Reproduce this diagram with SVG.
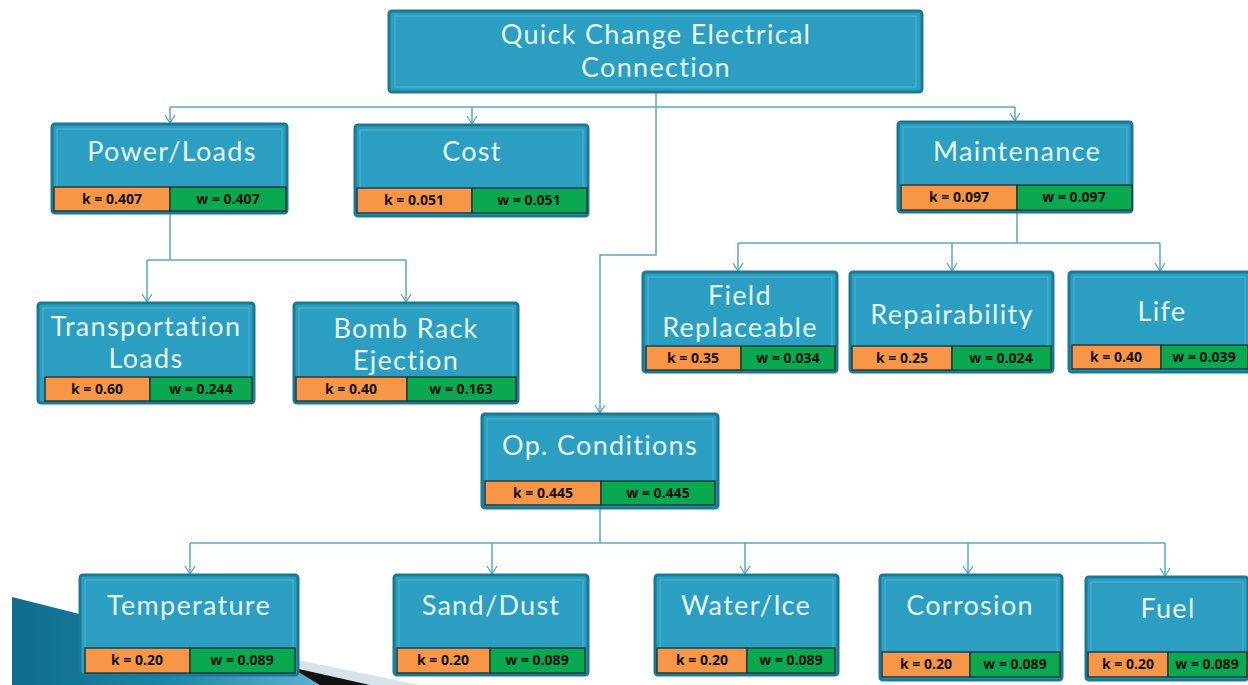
<svg xmlns="http://www.w3.org/2000/svg" width="1248" height="685" viewBox="0 0 1248 685">
<defs>
<style>
.box{fill:#2b9ec2;stroke:#1d7893;stroke-width:3}
.inner{fill:none;stroke:#4fb6d4;stroke-width:1}
.k{fill:#f79646;stroke:#213a3f;stroke-width:1.5}
.w{fill:#0aa84f;stroke:#213a3f;stroke-width:1.5}
.t{font-family:Lato,"Open Sans",sans-serif;font-size:27px;letter-spacing:1.3px;fill:#e6f7ef;text-anchor:middle}
.v{font-family:"Open Sans","DejaVu Sans",sans-serif;font-size:14px;font-weight:bold;fill:#111;text-anchor:middle}
.c{fill:none;stroke:#5aa8bf;stroke-width:1.5}
</style>
<marker id="arr" markerWidth="10" markerHeight="12" refX="9" refY="6" orient="auto" markerUnits="userSpaceOnUse" viewBox="0 0 10 12">
<path d="M1,1 L9,6 L1,11" fill="none" stroke="#5aa8bf" stroke-width="1.3"/>
</marker>
<linearGradient id="bg" x1="0" y1="0" x2="1" y2="0">
<stop offset="0" stop-color="#0f6c8c"/>
<stop offset="0.5" stop-color="#1d86a8"/>
<stop offset="1" stop-color="#5fb5d4"/>
</linearGradient>
</defs>
<rect width="1248" height="685" fill="#ffffff"/>
<g id="decoration">
<polygon points="12,597 310,672 330,685 12,685" fill="url(#bg)"/>
<polygon points="200,640 420,685 330,685 290,662" fill="#d7e3ea"/>
<polygon points="290,667 370,685 320,685" fill="#111111"/>
</g>
<g id="connectors">
<path class="c" d="M656,92 V107"/>
<path class="c" d="M170,107 H1015"/>
<path class="c" marker-end="url(#arr)" d="M170,107 V123"/>
<path class="c" marker-end="url(#arr)" d="M472,107 V124"/>
<path class="c" marker-end="url(#arr)" d="M1015,107 V121"/>
<path class="c" marker-end="url(#arr)" d="M656,107 V255 H600 V413"/>
<path class="c" d="M170,213 V260"/>
<path class="c" d="M147,260 H406"/>
<path class="c" marker-end="url(#arr)" d="M147,260 V302"/>
<path class="c" marker-end="url(#arr)" d="M406,260 V302"/>
<path class="c" d="M1017,212 V243"/>
<path class="c" d="M738,243 H1160"/>
<path class="c" marker-end="url(#arr)" d="M738,243 V271"/>
<path class="c" marker-end="url(#arr)" d="M952,243 V271"/>
<path class="c" marker-end="url(#arr)" d="M1160,243 V271"/>
<path class="c" d="M600,508 V543"/>
<path class="c" d="M190,543 H1165"/>
<path class="c" marker-end="url(#arr)" d="M190,543 V574"/>
<path class="c" marker-end="url(#arr)" d="M492,543 V574"/>
<path class="c" marker-end="url(#arr)" d="M745,543 V574"/>
<path class="c" marker-end="url(#arr)" d="M968,543 V574"/>
<path class="c" marker-end="url(#arr)" d="M1165,543 V576"/>
</g>
<g id="root">
<rect class="box" x="389" y="11" width="533" height="81" rx="3"/>
<rect class="inner" x="395" y="16" width="521" height="71"/>
<text class="t" x="656" y="44" font-size="27.5">Quick Change Electrical</text>
<text class="t" x="656" y="77" font-size="27.5">Connection</text>
</g>
<g id="power">
<rect class="box" x="52" y="124" width="235" height="89" rx="3"/>
<rect class="inner" x="57" y="129" width="225" height="58"/>
<text class="t" x="172" y="161">Power/Loads</text>
<rect class="k" x="54" y="187" width="116" height="24"/>
<rect class="w" x="170" y="187" width="116" height="24"/>
<text class="v" x="112" y="204">k = 0.407</text>
<text class="v" x="228" y="204">w = 0.407</text>
</g>
<g id="cost">
<rect class="box" x="355" y="125" width="233" height="91" rx="3"/>
<rect class="inner" x="360" y="130" width="223" height="58"/>
<text class="t" x="472" y="161">Cost</text>
<rect class="k" x="357" y="188" width="115" height="25"/>
<rect class="w" x="472" y="188" width="115" height="25"/>
<text class="v" x="414" y="205">k = 0.051</text>
<text class="v" x="529" y="205">w = 0.051</text>
</g>
<g id="maintenance">
<rect class="box" x="898" y="122" width="234" height="90" rx="3"/>
<rect class="inner" x="903" y="127" width="224" height="58"/>
<text class="t" x="1017" y="161">Maintenance</text>
<rect class="k" x="901" y="185" width="116" height="25"/>
<rect class="w" x="1017" y="185" width="115" height="25"/>
<text class="v" x="959" y="202">k = 0.097</text>
<text class="v" x="1074" y="202">w = 0.097</text>
</g>
<g id="transport">
<rect class="box" x="38" y="303" width="216" height="100" rx="3"/>
<rect class="inner" x="43" y="308" width="206" height="69"/>
<text class="t" x="146" y="336" font-size="26">Transportation</text>
<text class="t" x="146" y="368" font-size="26">Loads</text>
<rect class="k" x="45" y="377" width="105" height="24"/>
<rect class="w" x="150" y="377" width="102" height="24"/>
<text class="v" x="97" y="394">k = 0.60</text>
<text class="v" x="201" y="394">w = 0.244</text>
</g>
<g id="bomb">
<rect class="box" x="294" y="303" width="224" height="100" rx="3"/>
<rect class="inner" x="299" y="308" width="214" height="69"/>
<text class="t" x="406" y="338" font-size="26">Bomb Rack</text>
<text class="t" x="406" y="370" font-size="26">Ejection</text>
<rect class="k" x="296" y="377" width="111" height="24"/>
<rect class="w" x="407" y="377" width="109" height="24"/>
<text class="v" x="351" y="394">k = 0.40</text>
<text class="v" x="461" y="394">w = 0.163</text>
</g>
<g id="field">
<rect class="box" x="643" y="272" width="194" height="100" rx="3"/>
<rect class="inner" x="648" y="277" width="184" height="69"/>
<text class="t" x="740" y="305" font-size="26">Field</text>
<text class="t" x="740" y="337" font-size="26">Replaceable</text>
<rect class="k" x="646" y="346" width="95" height="24"/>
<rect class="w" x="741" y="346" width="94" height="24"/>
<text class="v" x="693" y="363">k = 0.35</text>
<text class="v" x="788" y="363">w = 0.034</text>
</g>
<g id="repair">
<rect class="box" x="850" y="272" width="203" height="100" rx="3"/>
<rect class="inner" x="855" y="277" width="193" height="69"/>
<text class="t" x="952" y="324">Repairability</text>
<rect class="k" x="852" y="346" width="100" height="24"/>
<rect class="w" x="952" y="346" width="99" height="24"/>
<text class="v" x="902" y="363">k = 0.25</text>
<text class="v" x="1001" y="363">w = 0.024</text>
</g>
<g id="life">
<rect class="box" x="1069" y="272" width="181" height="100" rx="3"/>
<rect class="inner" x="1074" y="277" width="171" height="68"/>
<text class="t" x="1162" y="321">Life</text>
<rect class="k" x="1072" y="345" width="89" height="24"/>
<rect class="w" x="1161" y="345" width="87" height="24"/>
<text class="v" x="1116" y="362">k = 0.40</text>
<text class="v" x="1204" y="362">w = 0.039</text>
</g>
<g id="opcond">
<rect class="box" x="482" y="414" width="236" height="94" rx="3"/>
<rect class="inner" x="487" y="419" width="226" height="62"/>
<text class="t" x="600" y="455">Op. Conditions</text>
<rect class="k" x="485" y="481" width="116" height="24"/>
<rect class="w" x="601" y="481" width="114" height="24"/>
<text class="v" x="543" y="498">k = 0.445</text>
<text class="v" x="658" y="498">w = 0.445</text>
</g>
<g id="temperature">
<rect class="box" x="80" y="575" width="218" height="100" rx="3"/>
<rect class="inner" x="85" y="580" width="208" height="68"/>
<text class="t" x="189" y="615">Temperature</text>
<rect class="k" x="85" y="648" width="105" height="25"/>
<rect class="w" x="190" y="648" width="105" height="25"/>
<text class="v" x="137" y="665">k = 0.20</text>
<text class="v" x="242" y="665">w = 0.089</text>
</g>
<g id="sand">
<rect class="box" x="394" y="575" width="194" height="100" rx="3"/>
<rect class="inner" x="399" y="580" width="184" height="68"/>
<text class="t" x="491" y="615">Sand/Dust</text>
<rect class="k" x="397" y="648" width="93" height="25"/>
<rect class="w" x="490" y="648" width="95" height="25"/>
<text class="v" x="443" y="665">k = 0.20</text>
<text class="v" x="537" y="665">w = 0.089</text>
</g>
<g id="water">
<rect class="box" x="655" y="575" width="183" height="100" rx="3"/>
<rect class="inner" x="660" y="580" width="173" height="68"/>
<text class="t" x="746" y="615">Water/Ice</text>
<rect class="k" x="657" y="648" width="90" height="25"/>
<rect class="w" x="747" y="648" width="88" height="25"/>
<text class="v" x="702" y="665">k = 0.20</text>
<text class="v" x="791" y="665">w = 0.089</text>
</g>
<g id="corrosion">
<rect class="box" x="880" y="575" width="182" height="105" rx="3"/>
<rect class="inner" x="885" y="580" width="172" height="72"/>
<text class="t" x="970" y="615">Corrosion</text>
<rect class="k" x="882" y="652" width="88" height="25"/>
<rect class="w" x="970" y="652" width="90" height="25"/>
<text class="v" x="926" y="669">k = 0.20</text>
<text class="v" x="1015" y="669">w = 0.089</text>
</g>
<g id="fuel">
<rect class="box" x="1086" y="577" width="162" height="103" rx="3"/>
<rect class="inner" x="1091" y="582" width="152" height="70"/>
<text class="t" x="1168" y="618">Fuel</text>
<rect class="k" x="1088" y="652" width="80" height="25"/>
<rect class="w" x="1168" y="652" width="79" height="25"/>
<text class="v" x="1128" y="669">k = 0.20</text>
<text class="v" x="1207" y="669">w = 0.089</text>
</g>
</svg>
